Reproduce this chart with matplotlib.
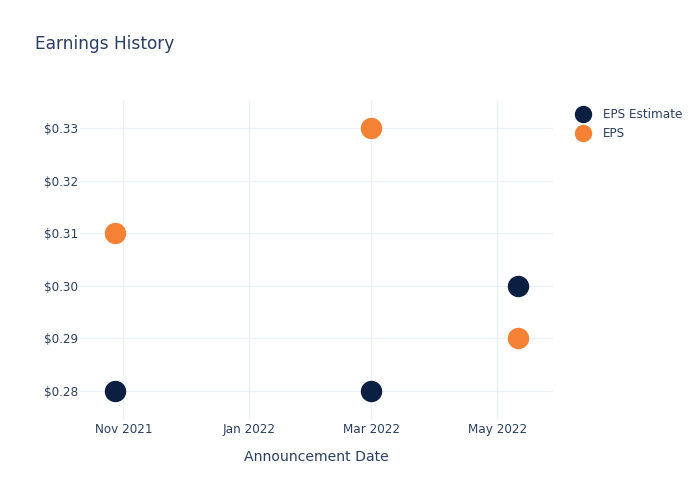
import matplotlib
matplotlib.use("Agg")
import matplotlib.pyplot as plt
import matplotlib.dates as mdates
from matplotlib.lines import Line2D
from matplotlib.ticker import FuncFormatter
import pandas as pd

# Data
dates = pd.to_datetime(["2021-10-28", "2022-03-01", "2022-05-11"])
eps_estimate = [0.28, 0.28, 0.30]
eps_actual = [0.31, 0.33, 0.29]
x_ticks = pd.to_datetime(["2021-11-01", "2022-01-01", "2022-03-01", "2022-05-01"])
y_ticks = [0.28, 0.29, 0.30, 0.31, 0.32, 0.33]

NAVY = "#0b1f42"
ORANGE = "#f58234"
TEXT = "#2a3f5f"
GRID = "#ebf0f8"

plt.rcParams['font.family'] = ['DejaVu Sans']

fig = plt.figure(figsize=(7, 5), dpi=100)
ax = fig.add_axes([80 / 700, 80 / 500, 473 / 700, 320 / 500])

ax.plot(dates, eps_estimate, 'o', color=NAVY, markersize=14.4, zorder=3, label="EPS Estimate")
ax.plot(dates, eps_actual, 'o', color=ORANGE, markersize=14.4, zorder=3, label="EPS")

ax.set_xlim(pd.Timestamp("2021-10-11"), pd.Timestamp("2022-05-28"))
ax.set_ylim(0.2745, 0.3353)
ax.set_xticks(x_ticks)
ax.xaxis.set_major_formatter(mdates.DateFormatter("%b %Y"))
ax.set_yticks(y_ticks)
ax.yaxis.set_major_formatter(FuncFormatter(lambda v, p: "$%.2f" % v))

ax.grid(True, color=GRID, linewidth=1)
ax.set_axisbelow(True)
for s in ax.spines.values():
    s.set_visible(False)
ax.tick_params(length=0, labelsize=8.64, colors=TEXT)
ax.tick_params(axis='x', pad=2)
ax.tick_params(axis='y', pad=1.5)

ax.set_xlabel("Announcement Date", fontsize=10.08, color=TEXT, labelpad=10)

fig.text(35 / 700, 1 - 44 / 500, "Earnings History", fontsize=12.24, color=TEXT, va='center', ha='left')

handles = [Line2D([], [], marker='o', linestyle='', color=NAVY, markersize=11.5),
           Line2D([], [], marker='o', linestyle='', color=ORANGE, markersize=11.5)]
fig.legend(handles, ["EPS Estimate", "EPS"], loc='upper left', bbox_to_anchor=(569 / 700, 1 - 103 / 500),
           frameon=False, fontsize=8.64, labelcolor=TEXT, handletextpad=0.9, labelspacing=0.5,
           handlelength=1.5, borderaxespad=0)

fig.savefig("out.png", dpi=100, facecolor='white')
